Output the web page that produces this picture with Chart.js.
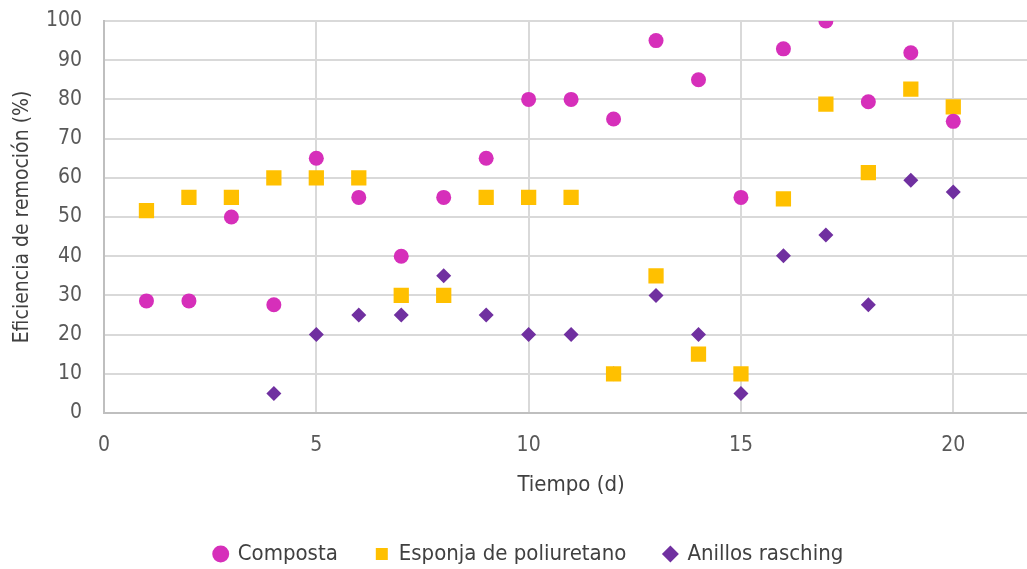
<!DOCTYPE html>
<html>
<head>
<meta charset="utf-8">
<script src="https://cdn.jsdelivr.net/npm/chart.js@4.4.1/dist/chart.umd.min.js"></script>
<style>
  html, body { margin: 0; padding: 0; background: #fff; overflow: hidden; }
  #wrap { width: 1027px; height: 569px; overflow: hidden; }
</style>
</head>
<body>
<div id="wrap"><canvas id="myChart" width="1049" height="569"></canvas></div>
<script>
    // dias de medicion
    const dias = [1, 2, 3, 4, 5, 6, 7, 8, 9, 10, 11, 12, 13, 14, 15, 16, 17, 18, 19, 20];

    // eficiencia de remocion (%) por medio filtrante
    const composta = [28.6, 28.6, 50, 27.6, 65, 55, 40, 55, 65, 80, 80, 75, 95, 85, 55, 92.9, 100, 79.4, 91.9, 74.4];
    const esponja = [51.6, 55, 55, 60, 60, 60, 30, 30, 55, 55, 55, 10, 35, 15, 10, 54.6, 78.8, 61.3, 82.6, 78.1];
    // los anillos se empezaron a medir el dia 4
    const anillos = [null, null, null, 5, 20, 25, 25, 35, 25, 20, 20, 10, 30, 20, 5, 40.1, 45.4, 27.6, 59.4, 56.4];

    const xTicks = [0, 5, 10, 15, 20];
    const yTicks = [0, 10, 20, 30, 40, 50, 60, 70, 80, 90, 100];

    const toPoints = (vals) => dias.map((d, i) => ({ x: d, y: vals[i] })).filter(p => p.y !== null);

    const fuente = "'Liberation Sans Narrow', 'DejaVu Sans Condensed', 'Roboto', sans-serif";

    const ctx = document.getElementById("myChart").getContext("2d");
    new Chart(ctx, {
        type: 'scatter',
        data: {
            datasets: [
                {
                    label: 'Composta',
                    data: toPoints(composta),
                    pointStyle: 'circle',
                    pointRadius: 7.5,
                    backgroundColor: '#D62FBA',
                    borderColor: '#D62FBA',
                    borderWidth: 0
                },
                {
                    label: 'Esponja de poliuretano',
                    data: toPoints(esponja),
                    pointStyle: 'rect',
                    pointRadius: 10.8,
                    backgroundColor: '#FFC000',
                    borderColor: '#FFC000',
                    borderWidth: 0
                },
                {
                    label: 'Anillos rasching',
                    data: toPoints(anillos),
                    pointStyle: 'rectRot',
                    pointRadius: 7.5,
                    backgroundColor: '#7030A0',
                    borderColor: '#7030A0',
                    borderWidth: 0
                }
            ]
        },
        options: {
            responsive: false,
            animation: false,
            layout: { padding: { left: 12, right: 3, top: 21, bottom: 0 } },
            plugins: {
                tooltip: { enabled: false },
                legend: {
                    position: 'bottom',
                    maxHeight: 64,
                    labels: {
                        usePointStyle: true,
                        boxHeight: 12,
                        boxWidth: 12,
                        padding: 38,
                        color: '#404040',
                        font: { family: fuente, size: 22 }
                    }
                }
            },
            scales: {
                x: {
                    type: 'linear',
                    min: 0,
                    max: 22,
                    afterBuildTicks: (scale) => {
                        scale.ticks = xTicks.map(v => ({ value: v }));
                    },
                    afterFit: (scale) => { scale.height = 92; },
                    grid: { color: '#D9D9D9', lineWidth: 2, drawTicks: false },
                    border: { color: '#BFBFBF', width: 2 },
                    ticks: {
                        padding: 20,
                        color: '#595959',
                        font: { family: fuente, size: 21 }
                    },
                    title: {
                        display: true,
                        text: 'Tiempo (d)',
                        color: '#404040',
                        padding: { top: 0, bottom: 7 },
                        font: { family: fuente, size: 22 }
                    }
                },
                y: {
                    min: 0,
                    max: 100,
                    afterBuildTicks: (scale) => {
                        scale.ticks = yTicks.map(v => ({ value: v }));
                    },
                    afterFit: (scale) => {
                        scale.width = 92;
                        // sin margen extra arriba por la etiqueta del 100
                        scale.paddingTop = 0;
                    },
                    grid: { color: '#D9D9D9', lineWidth: 2, drawTicks: false },
                    border: { color: '#BFBFBF', width: 2 },
                    ticks: {
                        padding: 22,
                        color: '#595959',
                        font: { family: fuente, size: 21 }
                    },
                    title: {
                        display: true,
                        text: 'Eficiencia de remoción (%)',
                        color: '#404040',
                        padding: { top: -2, bottom: 2 },
                        font: { family: fuente, size: 21 }
                    }
                }
            }
        }
    });
</script>
</body>
</html>
